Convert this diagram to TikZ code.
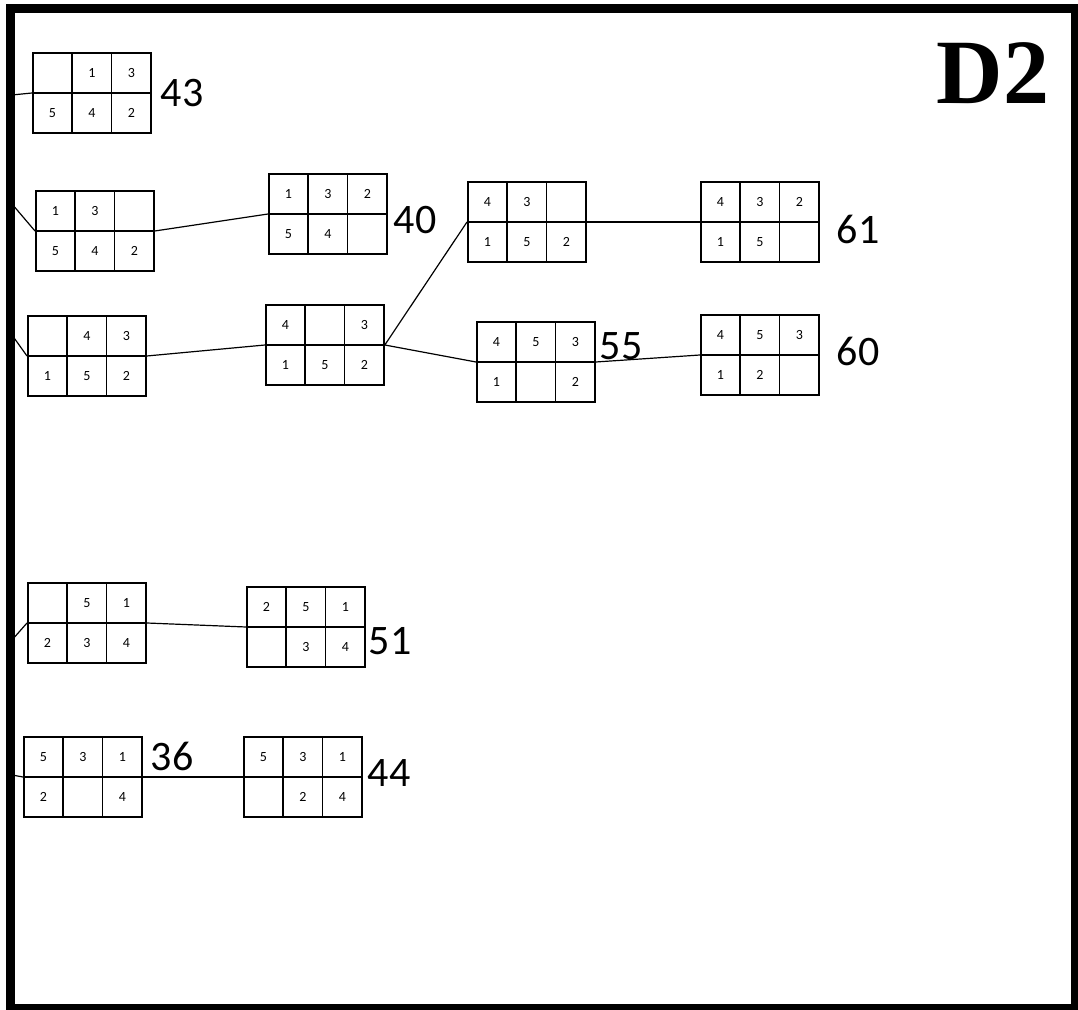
\documentclass[tikz,border=0pt]{standalone}
\usepackage{fontspec}
\setmainfont{Carlito}
\newfontfamily\headfont{Liberation Serif}
\usetikzlibrary{matrix}
\tikzset{
    board/.style={matrix of nodes, nodes in empty cells, anchor=west, inner sep=0pt, outer sep=0pt,
        column sep=-0.8pt, row sep=-0.8pt,
        nodes={draw, line width=0.8pt, minimum width=19.7pt, minimum height=20pt, inner sep=0pt,
            outer sep=0pt, anchor=center, font=\fontsize{7}{8}\selectfont}},
    score/.style={font=\fontsize{21}{21}\selectfont, inner sep=0pt},
}

\begin{document}
\begin{tikzpicture}[x=0.5pt, y=-0.5pt, line width=0.6pt]
    \useasboundingbox(0, 0) rectangle (1078, 1010);
    \node[font=\headfont\bfseries\fontsize{46}{46}\selectfont](title)at(993, 73){D2};
    % first column of boards, entered from the left
    \matrix[board](n43)at(32, 93){ & 1 & 3\\ 5 & 4 & 2\\};
    \matrix[board](u1)at(35, 231){1 & 3 & \\ 5 & 4 & 2\\};
    \matrix[board](u2)at(27, 356){ & 4 & 3\\ 1 & 5 & 2\\};
    \matrix[board](u3)at(27, 623){ & 5 & 1\\ 2 & 3 & 4\\};
    \matrix[board](n36)at(23, 777){5 & 3 & 1\\ 2 & & 4\\};
    % second column
    \matrix[board](n40)at(268, 214){1 & 3 & 2\\ 5 & 4 & \\};
    \matrix[board](u4)at(265, 345){4 & & 3\\ 1 & 5 & 2\\};
    \matrix[board](n51)at(246, 627){2 & 5 & 1\\ & 3 & 4\\};
    \matrix[board](n44)at(243, 777){5 & 3 & 1\\ & 2 & 4\\};
    % third and fourth column
    \matrix[board](u5)at(467, 222){4 & 3 & \\ 1 & 5 & 2\\};
    \matrix[board](n55)at(476, 362){4 & 5 & 3\\ 1 & & 2\\};
    \matrix[board](n61)at(700, 222){4 & 3 & 2\\ 1 & 5 & \\};
    \matrix[board](n60)at(700, 355){4 & 5 & 3\\ 1 & 2 & \\};
    % scores
    \node[score](l43)at(182, 93){43};
    \node[score](l40)at(415, 220){40};
    \node[score](l61)at(858, 229){61};
    \node[score](l55)at(621, 346){55};
    \node[score](l60)at(858, 351){60};
    \node[score](l51)at(390, 641){51};
    \node[score](l36)at(172, 756){36};
    \node[score](l44)at(389, 773){44};
    % moves
    \coordinate(e1)at(12, 95);
    \coordinate(e2)at(12, 204);
    \coordinate(e3)at(12, 335);
    \coordinate(e4)at(12, 640);
    \coordinate(e5)at(12, 775);
    \draw(e1)--(n43.west);
    \draw(e2)--(u1.west);
    \draw(e3)--(u2.west);
    \draw(e4)--(u3.west);
    \draw(e5)--(n36.west);
    \draw(u1.east)--(n40.west);
    \draw(u2.east)--(u4.west);
    \draw(u4.east)--(u5.west);
    \draw(u4.east)--(n55.west);
    \draw(u5.east)--(n61.west);
    \draw(n55.east)--(n60.west);
    \draw(u3.east)--(n51.west);
    \draw(n36.east)--(n44.west);
    \draw[line width=4.5pt](10.5, 9) rectangle (1075.5, 1008);
\end{tikzpicture}
\end{document}
